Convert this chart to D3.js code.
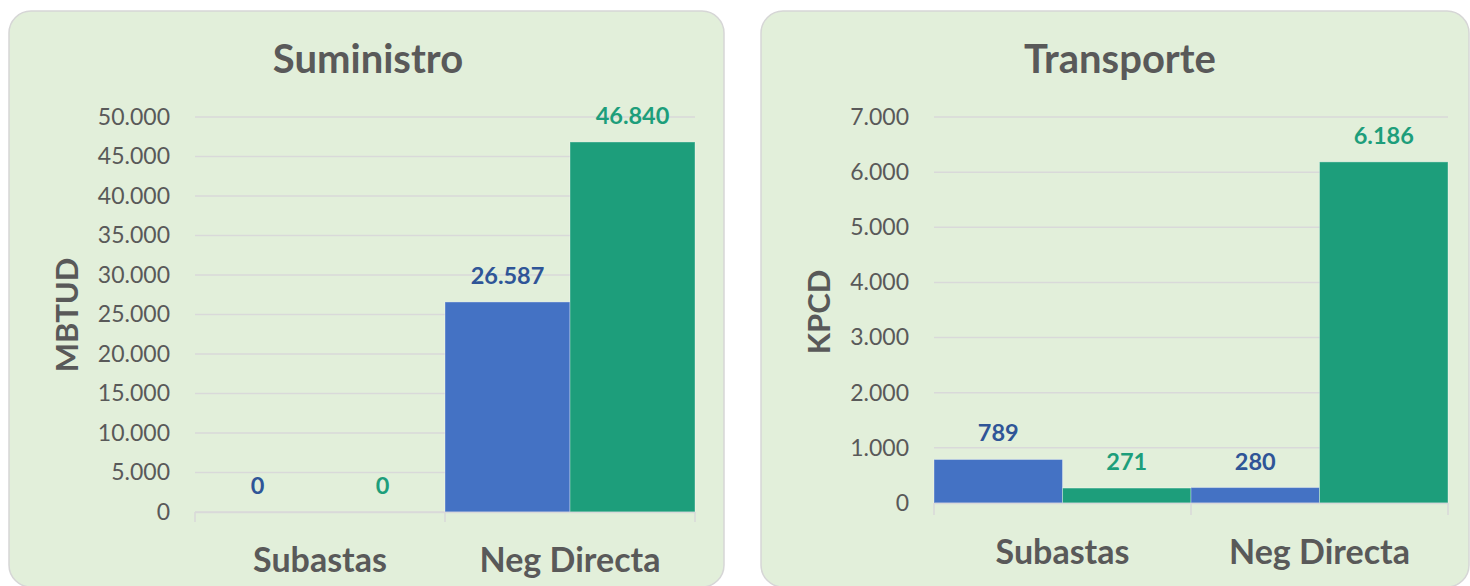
<!DOCTYPE html>
<html><head><meta charset="utf-8">
<script src="https://cdn.jsdelivr.net/npm/d3@7"></script>
<style>
html,body{margin:0;padding:0;background:#fff;}
svg{display:block;font-family:Lato, "Open Sans", sans-serif;}
</style></head>
<body>
<svg id="c" width="1470" height="586"></svg>
<script>
// ---- data ----
const categories = ["Subastas", "Neg Directa"];
const seriesNames = ["Serie 1", "Serie 2"];
const suministroBlue = [0, 26587];
const suministroGreen = [0, 46840];
const suministroTicks = [0, 5000, 10000, 15000, 20000, 25000, 30000, 35000, 40000, 45000, 50000];
const transporteBlue = [789, 280];
const transporteGreen = [271, 6186];
const transporteTicks = [0, 1000, 2000, 3000, 4000, 5000, 6000, 7000];

const barColors = ["#4472c4", "#1d9e7b"];
const labelColors = ["#2f5597", "#1d9e7b"];
const textColor = "#595959";
const gridColor = "#d9d9d9";

const fmt = v => v === 0 ? "0" : d3.format(",")(v).replace(/,/g, ".");

const svg = d3.select("#c");

function panel(cfg) {
  const g = svg.append("g");
  g.append("rect")
    .attr("x", cfg.px).attr("y", cfg.py).attr("width", cfg.pw).attr("height", cfg.ph)
    .attr("rx", 22).attr("ry", 22)
    .attr("fill", "#e2efda").attr("stroke", "#d6d6d6").attr("stroke-width", 1.5);

  const x = d3.scaleBand().domain(categories).range([cfg.x0, cfg.x1]).paddingInner(0).paddingOuter(0);
  const xs = d3.scaleBand().domain(seriesNames).range([0, x.bandwidth()]).padding(0);
  const y = d3.scaleLinear().domain([0, cfg.max]).range([cfg.y0, cfg.y1]);

  // gridlines
  g.append("g").selectAll("line").data(cfg.ticks).join("line")
    .attr("x1", cfg.x0).attr("x2", cfg.x1)
    .attr("y1", d => y(d)).attr("y2", d => y(d))
    .attr("stroke", gridColor).attr("stroke-width", 1.5);

  // y axis labels
  const ya = d3.axisLeft(y).tickValues(cfg.ticks).tickFormat(fmt).tickSize(0).tickPadding(25);
  const yg = g.append("g").attr("transform", `translate(${cfg.x0},0)`).call(ya);
  yg.select(".domain").remove();
  yg.selectAll("text").attr("fill", textColor).attr("font-size", 23).attr("font-family", "Lato");

  // bars
  const rows = categories.map((c, i) => ({cat: c, vals: [cfg.blue[i], cfg.green[i]]}));
  const bg = g.append("g").selectAll("g").data(rows).join("g")
    .attr("transform", d => `translate(${x(d.cat)},0)`);
  bg.selectAll("rect").data(d => d.vals.map((v, j) => ({v, s: seriesNames[j], j}))).join("rect")
    .attr("x", d => xs(d.s)).attr("width", xs.bandwidth())
    .attr("y", d => y(d.v)).attr("height", d => cfg.y0 - y(d.v))
    .attr("fill", d => barColors[d.j])
    .attr("stroke", "rgba(255,255,255,0.35)").attr("stroke-width", d => d.v > 0 ? 1 : 0);
  bg.selectAll("text").data(d => d.vals.map((v, j) => ({v, s: seriesNames[j], j}))).join("text")
    .attr("x", d => xs(d.s) + xs.bandwidth() / 2)
    .attr("y", d => y(d.v) - 18)
    .attr("text-anchor", "middle")
    .attr("font-weight", 700).attr("font-size", 23.5)
    .attr("fill", d => labelColors[d.j])
    .text(d => fmt(d.v));

  // x axis
  const xa = d3.axisBottom(x).tickSize(0).tickFormat("");
  const xg = g.append("g").attr("transform", `translate(0,${cfg.y0})`).call(xa);
  xg.select(".domain").attr("stroke", gridColor).attr("stroke-width", 1.5);
  const bounds = [cfg.x0, ...categories.map(c => x(c) + x.bandwidth())];
  xg.selectAll("line.sep").data(bounds).join("line").attr("class", "sep")
    .attr("x1", d => d).attr("x2", d => d).attr("y1", 0).attr("y2", cfg.tickLen)
    .attr("stroke", gridColor).attr("stroke-width", 1.5);
  g.append("g").selectAll("text").data(categories).join("text")
    .attr("x", d => x(d) + x.bandwidth() / 2).attr("y", cfg.catY)
    .attr("text-anchor", "middle").attr("font-weight", 700).attr("font-size", 34)
    .attr("fill", textColor).text(d => d);

  // title
  g.append("text").attr("x", cfg.titleX).attr("y", 73).attr("text-anchor", "middle")
    .attr("font-weight", 700).attr("font-size", 40).attr("fill", textColor).text(cfg.title);
  // y title
  g.append("text").attr("transform", `translate(${cfg.ytX},${cfg.ytY}) rotate(-90)`)
    .attr("text-anchor", "middle").attr("dominant-baseline", "central")
    .attr("font-weight", 700).attr("font-size", 31).attr("fill", textColor).text(cfg.ytitle);
}

panel({px: 9, py: 11, pw: 715, ph: 576, x0: 195, x1: 695, y0: 512, y1: 117, max: 50000,
  ticks: suministroTicks, blue: suministroBlue, green: suministroGreen, tickLen: 10,
  catY: 572, title: "Suministro", titleX: 368, ytitle: "MBTUD", ytX: 66, ytY: 315});
panel({px: 761, py: 11, pw: 708, ph: 576, x0: 934, x1: 1448, y0: 503, y1: 117, max: 7000,
  ticks: transporteTicks, blue: transporteBlue, green: transporteGreen, tickLen: 12,
  catY: 564, title: "Transporte", titleX: 1120, ytitle: "KPCD", ytX: 818, ytY: 312});
</script>
</body></html>
